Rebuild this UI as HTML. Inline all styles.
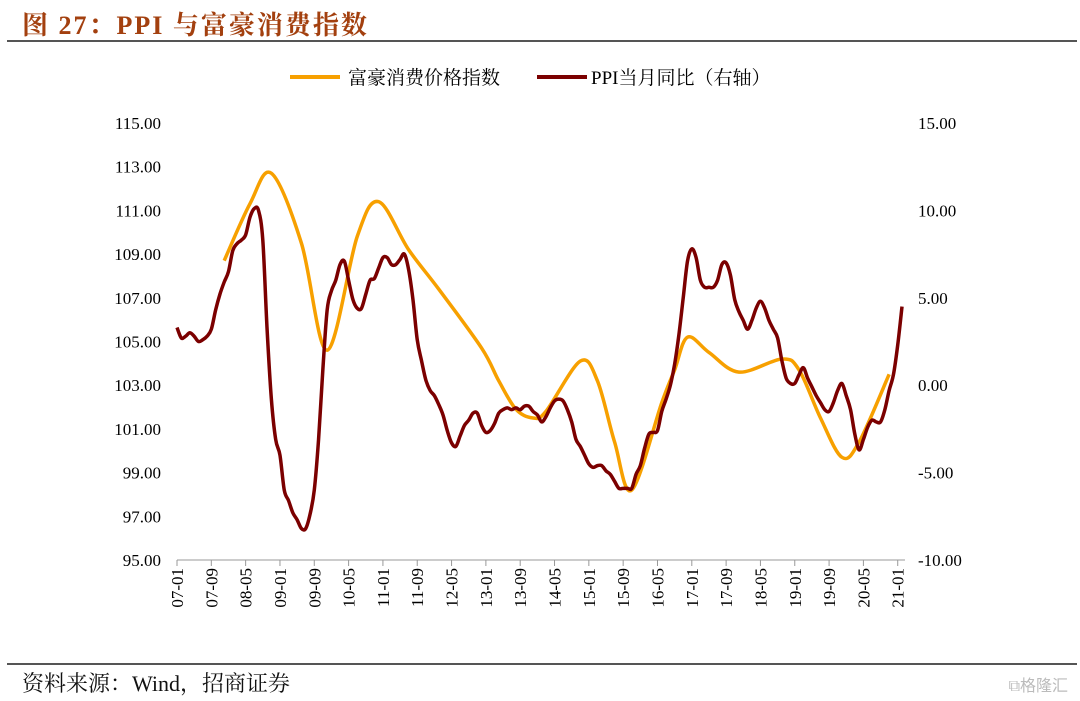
<!DOCTYPE html>
<html><head><meta charset="utf-8"><style>
body{margin:0;width:1080px;height:701px;background:#fff;overflow:hidden;position:relative;font-family:"Liberation Serif","Noto Serif CJK SC",serif}
#title{position:absolute;left:22px;top:5px;font-size:26px;font-weight:bold;color:#a3400f;letter-spacing:2px}
#src{position:absolute;left:22px;top:667px;font-size:22px;color:#111}
#wm{position:absolute;right:12px;top:672px;font-size:16px;color:#bbb;font-family:"Liberation Sans","Noto Sans CJK SC",sans-serif}
</style></head><body>
<div id="title">图 27：PPI 与富豪消费指数</div>
<div id="src">资料来源：Wind，招商证券</div>
<div id="wm">⧉格隆汇</div>
<svg id="chart" width="1080" height="701" style="position:absolute;left:0;top:0">
<line x1="7" y1="41" x2="1077" y2="41" stroke="#555" stroke-width="2"/>
<line x1="7" y1="664" x2="1077" y2="664" stroke="#555" stroke-width="2"/>
<g>
<line x1="290" y1="77" x2="340" y2="77" stroke="#f7a000" stroke-width="4"/>
<text x="348" y="84" font-size="19" font-family="Liberation Serif,Noto Serif CJK SC,serif">富豪消费价格指数</text>
<line x1="537" y1="77" x2="587" y2="77" stroke="#7b0000" stroke-width="4"/>
<text x="591" y="84" font-size="19" font-family="Liberation Serif,Noto Serif CJK SC,serif">PPI当月同比（右轴）</text>
</g>
<g id="axes"></g>
<g id="series"></g>
</svg>
<script>
const xLabels=["07-01","07-09","08-05","09-01","09-09","10-05","11-01","11-09","12-05","13-01","13-09","14-05","15-01","15-09","16-05","17-01","17-09","18-05","19-01","19-09","20-05","21-01"];
const leftTicks=[95,97,99,101,103,105,107,109,111,113,115];
const rightTicks=[-10,-5,0,5,10,15];
const ppiValues=[3.3,2.7,2.8,3.0,2.8,2.5,2.6,2.8,3.2,4.3,5.2,5.9,6.5,7.7,8.1,8.3,8.6,9.6,10.1,10.0,8.3,3.2,-0.8,-3.1,-4.0,-6.0,-6.6,-7.3,-7.7,-8.2,-8.2,-7.4,-6.0,-3.1,0.9,4.3,5.4,6.0,6.9,7.1,6.0,4.9,4.4,4.4,5.2,6.0,6.1,6.7,7.3,7.3,6.9,6.9,7.2,7.5,6.6,4.9,2.6,1.4,0.3,-0.3,-0.6,-1.1,-1.7,-2.6,-3.3,-3.5,-2.9,-2.3,-2.0,-1.6,-1.6,-2.3,-2.7,-2.6,-2.2,-1.6,-1.4,-1.3,-1.4,-1.3,-1.4,-1.2,-1.2,-1.5,-1.7,-2.1,-1.8,-1.3,-0.9,-0.8,-0.9,-1.4,-2.1,-3.1,-3.5,-4.0,-4.5,-4.7,-4.6,-4.6,-4.9,-5.1,-5.5,-5.9,-5.9,-5.9,-5.9,-5.1,-4.6,-3.6,-2.8,-2.7,-2.6,-1.5,-0.8,0.0,1.2,2.9,5.0,7.1,7.8,7.3,6.0,5.6,5.6,5.6,6.0,6.9,7.0,6.3,4.9,4.2,3.7,3.2,3.7,4.4,4.8,4.4,3.7,3.2,2.7,1.4,0.4,0.1,0.1,0.6,1.0,0.4,-0.1,-0.6,-1.0,-1.4,-1.5,-1.0,-0.3,0.1,-0.6,-1.4,-2.8,-3.7,-3.1,-2.4,-2.0,-2.1,-2.1,-1.4,-0.3,0.6,2.3,4.5];
const luxMonths=[11,17,22,29,35,42,47,54,61,71,75,79,83,86,94,98,102,106,113,116,119,124,131,141,145,150,155,159,166];
const luxValues=[108.7,111.3,112.7,109.5,104.6,109.8,111.4,109.2,107.4,104.7,103.2,101.9,101.5,101.8,104.1,103.2,100.4,98.2,102.2,103.7,105.2,104.5,103.6,104.2,103.7,101.5,99.7,100.4,103.5];

const X0=177,DX=4.29,PT=123,PB=560;
const xs=t=>X0+t*DX;
const yL=v=>PB-(v-95)/(115-95)*(PB-PT);
const yR=v=>PB-(v+10)/(15+10)*(PB-PT);
const NS="http://www.w3.org/2000/svg";
const ax=document.getElementById('axes'),se=document.getElementById('series');
function mk(tag,attrs,parent){const e=document.createElementNS(NS,tag);for(const k in attrs)e.setAttribute(k,attrs[k]);parent.appendChild(e);return e;}
const base=mk('line',{x1:X0,y1:PB,x2:905,y2:PB,stroke:'#999','stroke-width':1},ax);


xLabels.forEach((l,i)=>{
  const x=xs(i*8);
  const tk=mk('line',{x1:x,y1:PB,x2:x,y2:PB+6,stroke:'#999'},ax);
  
  
  const t=mk('text',{x:0,y:0,'font-size':17,'text-anchor':'end',transform:`translate(${x+6},${PB+8}) rotate(-90)`},ax);
  t.textContent=l;
  
  
});
leftTicks.forEach(v=>{
  const t=mk('text',{x:161,y:yL(v)+6,'font-size':17,'text-anchor':'end'},ax);
  t.textContent=v.toFixed(2);
  
  
});
rightTicks.forEach(v=>{
  const t=mk('text',{x:918,y:yR(v)+6,'font-size':17,'text-anchor':'start'},ax);
  t.textContent=v.toFixed(2);
  
  
});
function smooth(pts){
  let d=`M${pts[0][0]},${pts[0][1]}`;
  for(let i=0;i<pts.length-1;i++){
    const p0=pts[i-1]||pts[i],p1=pts[i],p2=pts[i+1],p3=pts[i+2]||p2;
    const c1=[p1[0]+(p2[0]-p0[0])/6,p1[1]+(p2[1]-p0[1])/6];
    const c2=[p2[0]-(p3[0]-p1[0])/6,p2[1]-(p3[1]-p1[1])/6];
    d+=` C${c1[0]},${c1[1]} ${c2[0]},${c2[1]} ${p2[0]},${p2[1]}`;
  }
  return d;
}
const lux=mk('path',{d:smooth(luxMonths.map((m,i)=>[xs(m),yL(luxValues[i])])),fill:'none',stroke:'#f7a000','stroke-width':3.5},se);


const ppi=mk('path',{d:smooth(ppiValues.map((v,i)=>[xs(i),yR(v)])),fill:'none',stroke:'#7b0000','stroke-width':3.5},se);


</script>
</body></html>
